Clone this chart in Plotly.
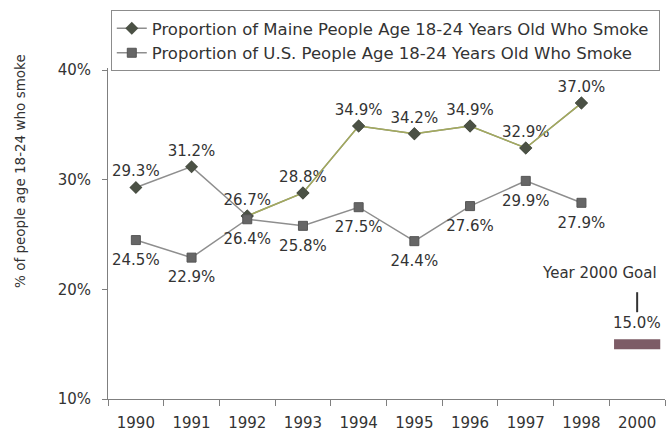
import plotly.graph_objects as go

# Survey years on the category axis (no 1999 survey; 2000 holds the goal)
years = ["1990", "1991", "1992", "1993", "1994", "1995", "1996", "1997", "1998", "2000"]
survey_years = years[:9]

# Share of people age 18-24 who smoke (%)
maine = [29.3, 31.2, 26.7, 28.8, 34.9, 34.2, 34.9, 32.9, 37.0]
us = [24.5, 22.9, 26.4, 25.8, 27.5, 24.4, 27.6, 29.9, 27.9]

goal_year = "2000"
goal = 15.0

y_ticks = [10, 20, 30, 40]

FONT = "DejaVu Sans"
TEXT = "#333333"
GRAY_LINE = "#8e8e8e"
OLIVE = "#a3aa5c"
MAINE_MARK = "#4b5145"
US_MARK = "#666666"
GOAL_BAR = "#7d5c66"
PAD = "\u00a0"  # keeps a little room at the right of the legend box


def pct(vals):
    return [f"{v:.1f}%" for v in vals]


label_font = dict(family=FONT, size=15, color=TEXT)
maine_marker = dict(symbol="diamond", size=10, color=MAINE_MARK)
goal_pos = years.index(goal_year)

fig = go.Figure()

# Maine series (legend entry, gray connecting line)
fig.add_trace(go.Scatter(
    x=survey_years, y=maine,
    mode="lines+markers+text",
    name="Proportion of Maine People Age 18-24 Years Old Who Smoke" + PAD,
    line=dict(color=GRAY_LINE, width=1.5),
    marker=maine_marker,
    text=pct(maine), textposition="top center", textfont=label_font,
    cliponaxis=False,
))
# Maine line drawn olive from 1992 onward
start = survey_years.index("1992")
fig.add_trace(go.Scatter(
    x=survey_years[start:], y=maine[start:],
    mode="lines", line=dict(color=OLIVE, width=1.5),
    showlegend=False, hoverinfo="skip",
))
fig.add_trace(go.Scatter(
    x=survey_years[start:], y=maine[start:],
    mode="markers", marker=maine_marker,
    showlegend=False, hoverinfo="skip",
))

# U.S. series
fig.add_trace(go.Scatter(
    x=survey_years, y=us,
    mode="lines+markers",
    name="Proportion of U.S. People Age 18-24 Years Old Who Smoke",
    line=dict(color=GRAY_LINE, width=1.5),
    marker=dict(symbol="square", size=9, color=US_MARK,
                line=dict(color="#555555", width=1)),
    cliponaxis=False,
))
# U.S. value labels, set a little further below the points
fig.add_trace(go.Scatter(
    x=survey_years, y=us,
    mode="markers+text",
    marker=dict(size=20, opacity=0),
    text=pct(us), textposition="bottom center", textfont=label_font,
    showlegend=False, hoverinfo="skip", cliponaxis=False,
))

# Year 2000 goal bar
fig.add_trace(go.Scatter(
    x=[goal_year], y=[goal],
    mode="markers",
    marker=dict(symbol="line-ew", size=33,
                line=dict(color=GOAL_BAR, width=10)),
    showlegend=False, hoverinfo="skip", cliponaxis=False,
))

fig.add_annotation(
    x=goal_pos, y=goal, text=f"{goal:.1f}%", showarrow=False,
    xanchor="center", yanchor="middle",
    yshift=21, font=label_font,
)
fig.add_annotation(
    x=goal_pos, y=goal, text="Year 2000 Goal", showarrow=False,
    xanchor="right", yanchor="middle", xshift=22, yshift=71, font=label_font,
)
fig.add_shape(
    type="line", xref="x", yref="y",
    x0=goal_pos, x1=goal_pos,
    ysizemode="pixel", yanchor=goal, y0=32, y1=52,
    line=dict(color="#333333", width=2),
)

# Vertical axis title
fig.add_annotation(
    xref="paper", yref="paper", x=-0.158, y=0.689,
    xanchor="center", yanchor="middle",
    text="% of people age 18-24 who smoke", textangle=-90,
    showarrow=False, font=dict(family=FONT, size=13.5, color=TEXT),
)

fig.update_layout(
    width=670, height=432,
    margin=dict(l=108, r=5, t=68, b=33, autoexpand=False),
    paper_bgcolor="white", plot_bgcolor="white",
    font=dict(family=FONT, color=TEXT),
    showlegend=True,
    legend=dict(
        x=0.005, y=1.175, xanchor="left", yanchor="top",
        bgcolor="white", bordercolor="#8c8c8c", borderwidth=1,
        font=dict(family=FONT, size=16.5, color=TEXT),
    ),
    xaxis=dict(
        type="category", categoryorder="array", categoryarray=years,
        range=[-0.5, len(years) - 0.5],
        showline=True, linecolor="#7f7f7f", linewidth=1,
        ticks="outside", tickson="boundaries", ticklen=6, tickcolor="#7f7f7f",
        showgrid=False, zeroline=False,
        tickfont=dict(family=FONT, size=15, color=TEXT),
        ticklabelstandoff=10,
    ),
    yaxis=dict(
        range=[10, 40.2],
        tickvals=y_ticks, ticktext=[f"{v}%" for v in y_ticks],
        showline=True, linecolor="#7f7f7f", linewidth=1,
        ticks="outside", ticklen=5, tickcolor="#7f7f7f",
        showgrid=False, zeroline=False,
        tickfont=dict(family=FONT, size=15, color=TEXT),
        ticklabelstandoff=8,
    ),
)

fig.write_html("out.html")
